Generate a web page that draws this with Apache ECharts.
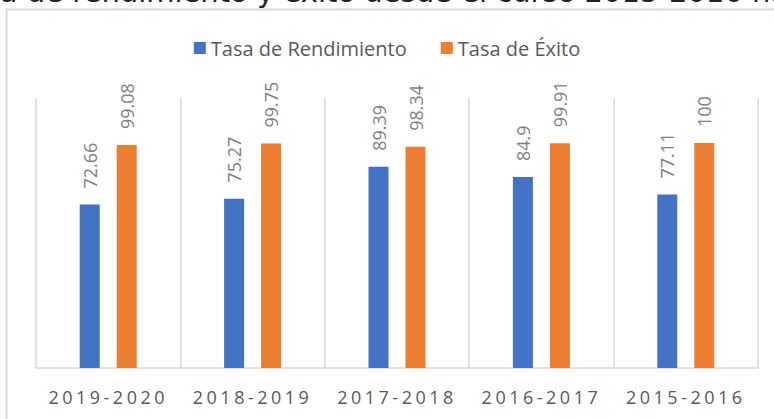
<!DOCTYPE html>
<html>
<head>
<meta charset="utf-8">
<script src="https://cdn.jsdelivr.net/npm/echarts@6/dist/echarts.min.js"></script>
<style>
  html, body { margin: 0; padding: 0; background: #fff; }
  #chart { width: 774px; height: 419px; }
</style>
</head>
<body>
<div id="chart"></div>
<script>
const cursos = ['2019-2020', '2018-2019', '2017-2018', '2016-2017', '2015-2016'];
const rendimiento = [72.66, 75.27, 89.39, 84.9, 77.11];
const exito = [99.08, 99.75, 98.34, 99.91, 100];
const titulo = 'Tasa de rendimiento y éxito desde el curso 2015-2016 hasta 2019-2020';

const barLabel = {
  show: true,
  position: 'top',
  rotate: 90,
  align: 'left',
  verticalAlign: 'middle',
  distance: 16,
  color: '#7f7f7f',
  fontFamily: 'Open Sans',
  fontSize: 18
};

const option = {
  animation: false,
  color: ['#4472c4', '#ed7d31'],
  textStyle: { fontFamily: 'Open Sans' },
  graphic: [
    {
      type: 'rect',
      shape: { x: 6.5, y: 9.5, width: 900, height: 600 },
      style: { fill: 'none', stroke: '#d9d9d9', lineWidth: 2 }
    },
    {
      type: 'text',
      x: -46,
      y: -8,
      style: {
        text: titulo,
        font: '29px "DejaVu Sans"',
        fill: '#222',
        textVerticalAlign: 'middle'
      }
    }
  ],
  legend: {
    top: 33,
    left: 'center',
    itemWidth: 12,
    itemHeight: 12,
    itemGap: 34,
    icon: 'rect',
    textStyle: { color: '#595959', fontSize: 20, fontFamily: 'Open Sans' },
    data: ['Tasa de Rendimiento', 'Tasa de Éxito']
  },
  grid: { left: 36, right: 16, top: 98, bottom: 51 },
  xAxis: {
    type: 'category',
    data: cursos,
    axisLine: { lineStyle: { color: '#d9d9d9', width: 1.5 } },
    axisTick: { show: false },
    splitLine: { show: true, lineStyle: { color: '#d9d9d9', width: 1.5 } },
    axisLabel: { color: '#595959', fontSize: 18, margin: 20, fontFamily: 'Open Sans' }
  },
  yAxis: {
    type: 'value',
    min: 0,
    max: 120,
    show: false,
    splitLine: { show: false }
  },
  series: [
    {
      name: 'Tasa de Rendimiento',
      type: 'bar',
      data: rendimiento,
      barWidth: 20,
      barGap: '85%',
      label: barLabel
    },
    {
      name: 'Tasa de Éxito',
      type: 'bar',
      data: exito,
      barWidth: 20,
      barGap: '85%',
      label: barLabel
    }
  ]
};

const chart = echarts.init(document.getElementById('chart'), null, { renderer: 'svg' });
chart.setOption(option);

// the source spreads the course labels out a little
document.querySelectorAll('#chart text').forEach(function (t) {
  if (cursos.indexOf(t.textContent) >= 0) {
    t.setAttribute('letter-spacing', '3.5');
  }
});
</script>
</body>
</html>
